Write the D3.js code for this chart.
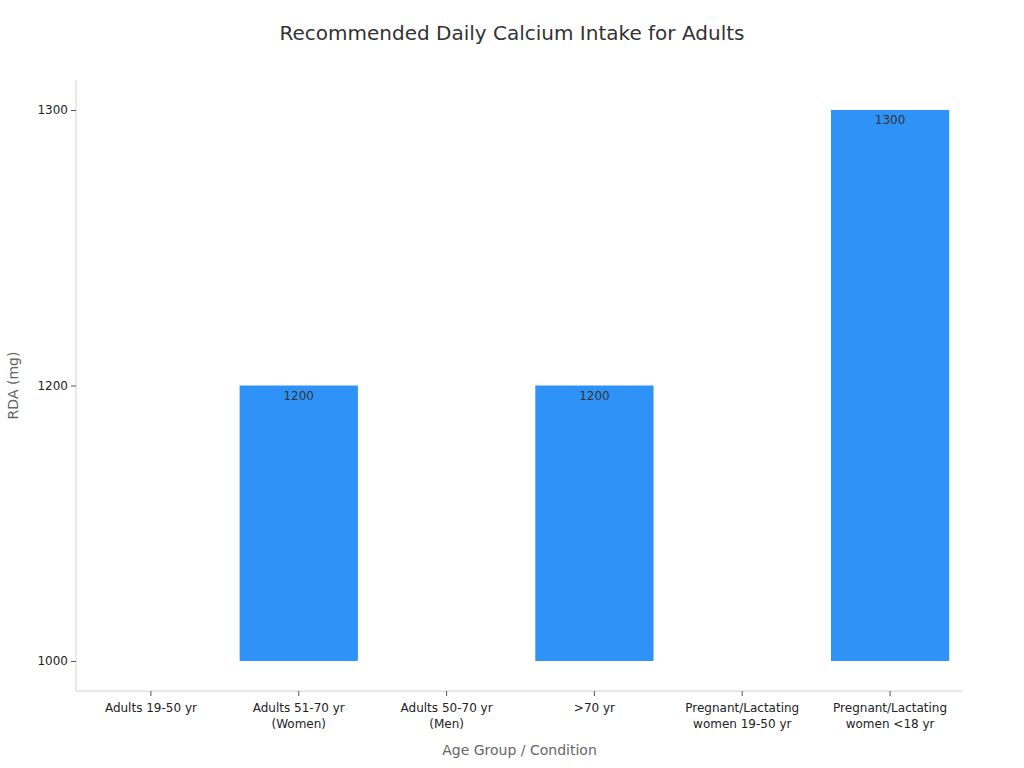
<!DOCTYPE html>
<html>
<head>
<meta charset="utf-8">
<script src="https://cdn.jsdelivr.net/npm/d3@7"></script>
<style>
  html, body { margin: 0; padding: 0; background: #fff; }
  svg { display: block; font-family: "DejaVu Sans", sans-serif; }
</style>
</head>
<body>
<svg id="chart" width="1024" height="768"></svg>
<script>
const categories = [
  ["Adults 19-50 yr"],
  ["Adults 51-70 yr", "(Women)"],
  ["Adults 50-70 yr", "(Men)"],
  [">70 yr"],
  ["Pregnant/Lactating", "women 19-50 yr"],
  ["Pregnant/Lactating", "women <18 yr"]
];
const values = [1000, 1200, 1000, 1200, 1000, 1300];
const yTicks = [1000, 1200, 1300];
const baseValue = 1000;

const svg = d3.select("#chart");
const m = { left: 76, right: 963, top: 80, bottom: 691 };

const keys = categories.map((c, i) => i);
const x = d3.scaleBand().domain(keys).range([m.left + 1, m.right + 1]).paddingInner(0.2).paddingOuter(0.1);
// the value axis is categorical: distinct values are evenly spaced
const y = d3.scalePoint().domain(yTicks).range([m.bottom, m.top]).padding(0.109);

// title
svg.append("text").attr("x", 512).attr("y", 40).attr("text-anchor", "middle")
  .attr("font-size", 20).attr("fill", "#333").text("Recommended Daily Calcium Intake for Adults");

// bars
svg.selectAll("rect.bar").data(values).enter().append("rect")
  .attr("class", "bar")
  .attr("x", (d, i) => x(i))
  .attr("width", x.bandwidth())
  .attr("y", d => Math.min(y(d), y(baseValue)))
  .attr("height", d => Math.abs(y(baseValue) - y(d)))
  .attr("fill", "#2f92f7");

// value labels (only for bars with height)
values.forEach((d, i) => {
  if (d > baseValue) {
    svg.append("text").attr("class", "val")
      .attr("x", x(i) + x.bandwidth() / 2).attr("y", y(d) + 14)
      .attr("text-anchor", "middle").attr("font-size", 12).attr("fill", "#333")
      .text(d);
  }
});

// axes
const yAxis = d3.axisLeft(y).tickSize(5).tickPadding(3).tickFormat(d3.format("d"));
const gy = svg.append("g").attr("transform", `translate(${m.left},0)`).call(yAxis);
gy.select(".domain").attr("stroke", "#d0d0d0").attr("d", `M0,${m.top}V${m.bottom}`);
gy.selectAll(".tick line").attr("stroke", "#555");
gy.selectAll(".tick text").attr("font-size", 12).attr("fill", "#222").attr("font-family", "DejaVu Sans, sans-serif");

const xAxis = d3.axisBottom(x).tickSize(5).tickPadding(6).tickFormat(() => "");
const gx = svg.append("g").attr("transform", `translate(0,${m.bottom})`).call(xAxis);
gx.select(".domain").attr("stroke", "#d0d0d0").attr("d", `M${m.left},0H${m.right}`);
gx.selectAll(".tick line").attr("stroke", "#555");
gx.selectAll(".tick").each(function(d) {
  const t = d3.select(this).append("text").attr("fill", "#222").attr("font-size", 12)
    .attr("text-anchor", "middle").attr("font-family", "DejaVu Sans, sans-serif");
  categories[d].forEach((line, j) => {
    t.append("tspan").attr("x", 0).attr("y", 21 + j * 16).text(line);
  });
});

// axis titles
svg.append("text").attr("x", m.left + (m.right - m.left) / 2).attr("y", 755)
  .attr("text-anchor", "middle").attr("font-size", 14).attr("fill", "#666").text("Age Group / Condition");
svg.append("text").attr("transform", `translate(18,${(m.top + m.bottom) / 2}) rotate(-90)`)
  .attr("text-anchor", "middle").attr("font-size", 14).attr("fill", "#666").text("RDA (mg)");
</script>
</body>
</html>
